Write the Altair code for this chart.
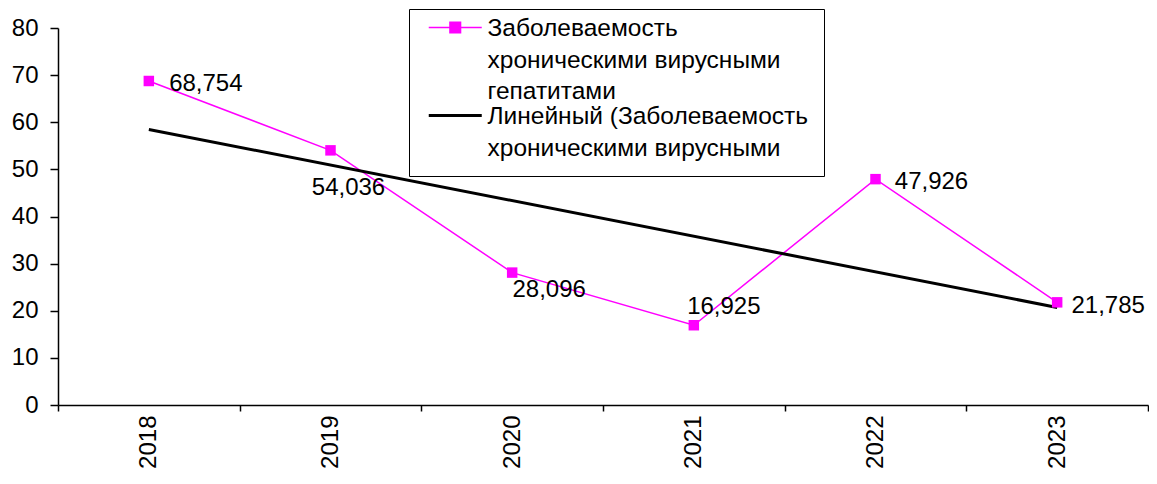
import json
import altair as alt
import pandas as pd

# ---- data ----
years = ["2018", "2019", "2020", "2021", "2022", "2023"]
values = [68.754, 54.036, 28.096, 16.925, 47.926, 21.785]
y_ticks = [0, 10, 20, 30, 40, 50, 60, 70, 80]
series_name = "Заболеваемость хроническими вирусными гепатитами"
trend_name = "Линейный (Заболеваемость хроническими вирусными гепатитами)"
legend_series_lines = ["Заболеваемость", "хроническими вирусными", "гепатитами"]
legend_trend_lines = ["Линейный (Заболеваемость", "хроническими вирусными"]

# ---- styles ----
MAGENTA = "#FF00FF"
FONT = "Liberation Sans"
FS = 24
LEG_FS = 24.5
# label offsets (dx, dy) per year, relative to the point
label_offsets = {
    "2018": (57, 3),
    "2019": (18, 38),
    "2020": (37, 17),
    "2021": (30, -18),
    "2022": (56, 3),
    "2023": (51, 4),
}

df = pd.DataFrame({
    "idx": list(range(1, len(years) + 1)),
    "year": years,
    "value": values,
    "series": series_name,
})

n = len(years)
x_tick_vals = [i / 2 for i in range(1, 2 * n + 2)]  # band edges and centres

x_scale = alt.Scale(domain=[0.5, n + 0.5], nice=False, zero=False)
x_axis = alt.Axis(
    values=x_tick_vals,
    labelExpr=f"datum.value % 1 === 0 ? {json.dumps(years)}[datum.value - 1] : ''",
    tickOpacity={"condition": {"test": "datum.value % 1 === 0", "value": 0}, "value": 1},
    labelFontSize={"condition": {"test": "datum.value % 1 !== 0", "value": 0}, "value": FS},
    labelAngle=270,
    labelAlign="right",
    labelBaseline="middle",
    labelOverlap=False,
    labelFlush=False,
    labelPadding=4,
    tickSize=6,
    grid=False,
    title=None,
)
y_scale = alt.Scale(domain=[0, 80], nice=False)
y_axis = alt.Axis(values=y_ticks, grid=False, tickSize=8, labelPadding=12, title=None)

trend_json = json.dumps(trend_name, ensure_ascii=False)
sym_series = "M-1,-0.33H1M-0.2,-0.53H0.2V-0.13H-0.2Z"
sym_trend = "M-1,-0.33H1"

legend = alt.Legend(
    title=None,
    orient="none",
    legendX=351,
    legendY=-19,
    strokeColor="black",
    fillColor="white",
    padding=15,
    rowPadding=0,
    symbolSize=2809,
    symbolOffset=19,
    symbolType=alt.ExprRef(expr=f"datum.value === {trend_json} ? '{sym_trend}' : '{sym_series}'"),
    symbolStrokeWidth=alt.ExprRef(expr=f"datum.value === {trend_json} ? 3 : 1.5"),
    labelExpr=(
        f"datum.value === {trend_json} ? {json.dumps(legend_trend_lines, ensure_ascii=False)}"
        f" : {json.dumps(legend_series_lines, ensure_ascii=False)}"
    ),
    labelBaseline="alphabetic",
    labelFont=FONT,
    labelFontSize=LEG_FS,
    labelColor="black",
    labelLimit=1000,
    labelOffset=20,
)

color_scale = alt.Scale(domain=[series_name, trend_name], range=[MAGENTA, "black"])

base = alt.Chart(df).encode(
    x=alt.X("idx:Q", scale=x_scale, axis=x_axis),
    y=alt.Y("value:Q", scale=y_scale, axis=y_axis),
)

line = base.mark_line(strokeWidth=1.5).encode(
    color=alt.Color("series:N", scale=color_scale, legend=legend)
)

trend = (
    base.transform_regression("idx", "value", method="linear")
    .transform_calculate(series=f"{trend_json}")
    .mark_line(strokeWidth=3)
    .encode(color=alt.Color("series:N", scale=color_scale, legend=legend))
)

points = base.mark_point(shape="square", filled=True, size=110, opacity=1).encode(
    color=alt.Color("series:N", scale=color_scale, legend=None)
)

texts = []
for yr in years:
    dx, dy = label_offsets[yr]
    texts.append(
        base.transform_filter(alt.datum.year == yr)
        .transform_calculate(lbl="replace(format(datum.value, '.3f'), '.', ',')")
        .mark_text(font=FONT, fontSize=FS, color="black", align="center",
                   baseline="middle", dx=dx, dy=dy)
        .encode(text="lbl:N")
    )

chart = (
    alt.layer(line, trend, points, *texts)
    .properties(width=1090, height=377,
                padding={"left": 3, "top": 0, "right": 0, "bottom": 0})
    .configure(style={"guide-label": {"lineHeight": 31.5}})
    .configure_axis(
        labelFont=FONT, labelFontSize=FS, labelColor="black",
        domainColor="black", tickColor="black", domainWidth=1.5, tickWidth=1.5,
    )
    .configure_view(stroke=None)
)

chart.save("out.html", embed_options={"renderer": "svg", "actions": False})
